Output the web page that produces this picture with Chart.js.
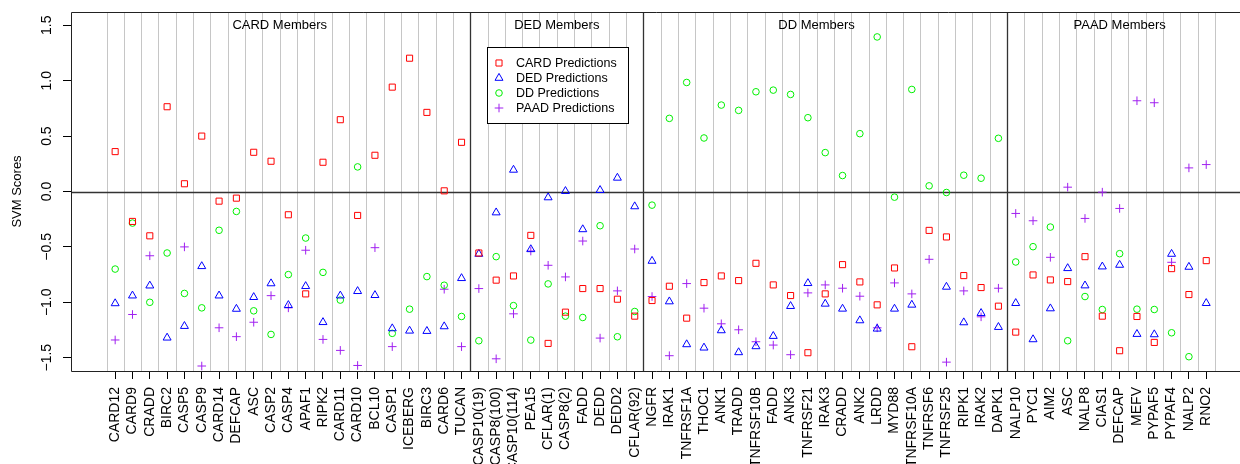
<!DOCTYPE html>
<html>
<head>
<meta charset="utf-8">
<script src="https://cdn.jsdelivr.net/npm/chart.js@4/dist/chart.umd.min.js"></script>
<style>
  html, body { margin: 0; padding: 0; background: #fff; }
  canvas { display: block; }
</style>
</head>
<body>
<canvas id="svmCanvas" width="1240" height="464"></canvas>
<script>
// Member names along the x axis (CARD, DED, DD, PAAD groups in order)
const members = [
  'CARD12', 'CARD9', 'CRADD', 'BIRC2', 'CASP5', 'CASP9', 'CARD14', 'DEFCAP', 'ASC', 'CASP2', 'CASP4',
  'APAF1', 'RIPK2', 'CARD11', 'CARD10', 'BCL10', 'CASP1', 'ICEBERG', 'BIRC3', 'CARD6', 'TUCAN',
  'CASP10(19)', 'CASP8(100)', 'CASP10(114)', 'PEA15', 'CFLAR(1)', 'CASP8(2)', 'FADD', 'DEDD', 'DEDD2', 'CFLAR(92)',
  'NGFR', 'IRAK1', 'TNFRSF1A', 'THOC1', 'ANK1', 'TRADD', 'TNFRSF10B', 'FADD', 'ANK3', 'TNFRSF21', 'IRAK3',
  'CRADD', 'ANK2', 'LRDD', 'MYD88', 'TNFRSF10A', 'TNFRSF6', 'TNFRSF25', 'RIPK1', 'IRAK2', 'DAPK1',
  'NALP10', 'PYC1', 'AIM2', 'ASC', 'NALP8', 'CIAS1', 'DEFCAP', 'MEFV', 'PYPAF5', 'PYPAF4', 'NALP2', 'RNO2'
];

const groupNames = ['CARD Members', 'DED Members', 'DD Members', 'PAAD Members'];
const groupSizes = [21, 10, 21, 12];
// where each group title sits, in x-axis units
const groupLabelAt = [9.5, 25.5, 40.5, 58];

// SVM scores per member (null = off the plotted range)
const cardScores = [
  0.36, -0.27, -0.40, 0.765, 0.07, 0.50, -0.087, -0.06, 0.354, 0.273, -0.21,
  -0.924, 0.264, 0.648, -0.216, 0.327, 0.942, 1.203, 0.714, 0.006, 0.444,
  -0.555, -0.80, -0.762, -0.396, -1.371, -1.089, -0.876, -0.876, -0.972, -1.125,
  -0.984, -0.855, -1.143, -0.822, -0.762, -0.804, -0.648, -0.843, -0.939, -1.455, -0.924,
  -0.66, -0.816, -1.023, -0.69, -1.401, -0.351, -0.41, -0.759, -0.867, -1.035,
  -1.269, -0.753, -0.798, -0.813, -0.588, -1.125, -1.437, -1.128, -1.362, -0.696, -0.93, -0.624
];
const dedScores = [
  -1.01, -0.94, -0.85, -1.32, -1.215, -0.675, -0.94, -1.06, -0.954, -0.83, -1.026,
  -0.855, -1.18, -0.94, -0.90, -0.936, -1.236, -1.257, -1.26, -1.218, -0.783,
  -0.564, -0.19, 0.195, -0.522, -0.054, 0.003, -0.342, 0.012, 0.123, -0.135,
  -0.627, -0.993, -1.38, -1.41, -1.254, -1.452, -1.398, -1.305, -1.035, -0.828, -1.014,
  -1.059, -1.164, -1.239, -1.059, -1.023, null, -0.861, -1.182, -1.098, -1.224,
  -1.008, -1.335, -1.056, -0.693, -0.849, -0.678, -0.663, -1.287, -1.29, -0.564, -0.681, -1.008
];
const ddScores = [
  -0.70, -0.285, -1.00, -0.555, -0.92, -1.05, -0.35, -0.18, -1.077, -1.29, -0.75,
  -0.42, -0.73, -0.98, 0.222, null, -1.28, -1.062, -0.768, -0.846, -1.128,
  -1.347, -0.588, -1.03, -1.341, -0.834, -1.125, -1.137, -0.309, -1.311, -1.083,
  -0.123, 0.66, 0.984, 0.483, 0.78, 0.732, 0.90, 0.915, 0.876, 0.666, 0.351,
  0.144, 0.522, 1.395, -0.051, 0.921, 0.051, -0.009, 0.147, 0.12, 0.48,
  -0.636, -0.498, -0.321, -1.347, -0.948, -1.065, -0.561, -1.062, -1.065, -1.275, -1.491, null
];
const paadScores = [
  -1.34, -1.11, -0.58, null, -0.50, -1.575, -1.23, -1.31, -1.18, -0.94, -1.05,
  -0.53, -1.335, -1.434, -1.57, -0.507, -1.40, null, null, -0.882, -1.40,
  -0.876, -1.51, -1.104, -0.537, -0.666, -0.771, -0.447, -1.323, -0.897, -0.519,
  -0.948, -1.482, -0.831, -1.053, -1.194, -1.248, -1.356, -1.386, -1.473, -0.915, -0.843,
  -0.873, -0.945, -1.23, -0.825, -0.924, -0.612, -1.54, -0.897, -1.131, -0.873,
  -0.198, -0.264, -0.594, 0.039, -0.243, -0.006, -0.153, 0.819, 0.801, -0.639, 0.213, 0.243
];

const yTicks = [-1.5, -1.0, -0.5, 0.0, 0.5, 1.0, 1.5];

const FONT = '"Liberation Sans", Arial, Helvetica, sans-serif';

const series = [
  { label: 'CARD Predictions', data: cardScores, color: '#ff0000', style: 'rect', r: 4.3 },
  { label: 'DED Predictions', data: dedScores, color: '#0000ff', style: 'triangle', r: 4.6 },
  { label: 'DD Predictions', data: ddScores, color: '#00f000', style: 'circle', r: 3.3 },
  { label: 'PAAD Predictions', data: paadScores, color: '#a020f0', style: 'cross', r: 4.3 }
];

// boundaries between the four groups, in x units
const groupEdges = [];
let acc = 0;
groupSizes.forEach((n, k) => {
  acc += n;
  if (k < groupSizes.length - 1) groupEdges.push(acc - 0.5);
});

function drawMarker(ctx, style, x, y, r, color) {
  ctx.save();
  ctx.strokeStyle = color;
  ctx.lineWidth = 1;
  ctx.beginPath();
  if (style === 'rect') {
    const s = r * Math.SQRT1_2;
    ctx.rect(x - s, y - s, 2 * s, 2 * s);
  } else if (style === 'triangle') {
    ctx.moveTo(x, y - r);
    ctx.lineTo(x + r * Math.sin(2 * Math.PI / 3), y - r * Math.cos(2 * Math.PI / 3));
    ctx.lineTo(x + r * Math.sin(4 * Math.PI / 3), y - r * Math.cos(4 * Math.PI / 3));
    ctx.closePath();
  } else if (style === 'circle') {
    ctx.arc(x, y, r, 0, Math.PI * 2);
  } else {
    ctx.moveTo(x - r, y); ctx.lineTo(x + r, y);
    ctx.moveTo(x, y - r); ctx.lineTo(x, y + r);
  }
  ctx.stroke();
  ctx.restore();
}

const decorations = {
  id: 'decorations',
  beforeDatasetsDraw(chart) {
    const { ctx, chartArea: a, scales: { x, y } } = chart;
    ctx.save();
    // light lines between members
    ctx.strokeStyle = '#c6c6c6';
    ctx.lineWidth = 1;
    for (let i = 0; i <= members.length; i++) {
      const v = i - 0.5;
      if (groupEdges.includes(v)) continue;
      const px = Math.round(x.getPixelForValue(v)) + 0.5;
      ctx.beginPath(); ctx.moveTo(px, a.top); ctx.lineTo(px, a.bottom); ctx.stroke();
    }
    // group dividers and zero line
    ctx.strokeStyle = '#333';
    ctx.lineWidth = 1.3;
    groupEdges.forEach(v => {
      const px = Math.round(x.getPixelForValue(v)) + 0.5;
      ctx.beginPath(); ctx.moveTo(px, a.top); ctx.lineTo(px, a.bottom); ctx.stroke();
    });
    const zy = Math.round(y.getPixelForValue(0)) + 0.5;
    ctx.beginPath(); ctx.moveTo(a.left, zy); ctx.lineTo(a.right, zy); ctx.stroke();

    // group titles
    ctx.fillStyle = '#000';
    ctx.font = '13px ' + FONT;
    ctx.textAlign = 'center';
    ctx.textBaseline = 'middle';
    groupNames.forEach((g, k) => ctx.fillText(g, x.getPixelForValue(groupLabelAt[k]), 25));
    ctx.restore();
  },
  afterDatasetsDraw(chart) {
    const { ctx, chartArea: a, scales: { y } } = chart;
    ctx.save();
    // plot frame (right side runs off the picture, as in the original)
    ctx.strokeStyle = '#222';
    ctx.lineWidth = 1;
    ctx.beginPath();
    ctx.moveTo(a.right + 10, a.top + 0.5);
    ctx.lineTo(a.left + 0.5, a.top + 0.5);
    ctx.lineTo(a.left + 0.5, a.bottom + 0.5);
    ctx.lineTo(a.right + 10, a.bottom + 0.5);
    ctx.stroke();

    // legend
    const lx = 487, ly = 47, lw = 141, lh = 76;
    ctx.fillStyle = '#fff';
    ctx.fillRect(lx, ly, lw, lh);
    ctx.strokeStyle = '#000';
    ctx.strokeRect(lx + 0.5, ly + 0.5, lw, lh);
    ctx.font = '12.5px ' + FONT;
    ctx.textAlign = 'left';
    ctx.textBaseline = 'middle';
    series.forEach((s, k) => {
      const ry = ly + 16 + k * 15;
      drawMarker(ctx, s.style, lx + 12, ry, s.r, s.color);
      ctx.fillStyle = '#000';
      ctx.fillText(s.label, lx + 29, ry + 0.5);
    });

    // y tick labels, rotated like the original
    ctx.font = '14px ' + FONT;
    ctx.textAlign = 'center';
    yTicks.forEach(v => {
      ctx.save();
      ctx.translate(47.5, y.getPixelForValue(v));
      ctx.rotate(-Math.PI / 2);
      ctx.fillText(v.toFixed(1).replace('-', '\u2212'), 0, 0);
      ctx.restore();
    });
    // y title
    ctx.font = '13px ' + FONT;
    ctx.translate(17, (a.top + a.bottom) / 2);
    ctx.rotate(-Math.PI / 2);
    ctx.fillText('SVM Scores', 0, 0);
    ctx.restore();
  }
};

const ctx = document.getElementById('svmCanvas').getContext('2d');
new Chart(ctx, {
  type: 'scatter',
  data: {
    datasets: series.map(s => ({
      label: s.label,
      data: s.data.map((v, i) => ({ x: i, y: v })),
      pointStyle: s.style,
      pointRadius: s.r,
      pointHoverRadius: s.r,
      borderColor: s.color,
      backgroundColor: 'rgba(0,0,0,0)',
      borderWidth: 1
    }))
  },
  options: {
    responsive: false,
    animation: false,
    devicePixelRatio: 1,
    layout: { autoPadding: false, padding: { top: 12, right: 0, left: 0, bottom: 0 } },
    plugins: { legend: { display: false }, tooltip: { enabled: false } },
    scales: {
      x: {
        type: 'linear',
        min: -2.55,
        max: 64.95,
        afterBuildTicks: scale => { scale.ticks = members.map((_, i) => ({ value: i })); },
        afterFit: scale => {
          scale.height = 93;
          scale.paddingLeft = 0;
          scale.paddingRight = 0;
        },
        ticks: {
          autoSkip: false,
          minRotation: 90,
          maxRotation: 90,
          padding: 8,
          color: '#000',
          font: { family: FONT, size: 14 },
          callback: v => members[v]
        },
        grid: { drawOnChartArea: false, drawTicks: true, tickLength: 8, color: '#000', tickColor: '#000' },
        border: { display: false }
      },
      y: {
        min: -1.62,
        max: 1.62,
        afterBuildTicks: scale => { scale.ticks = yTicks.map(v => ({ value: v })); },
        afterFit: scale => {
          scale.width = 71;
          scale.paddingTop = 0;
          scale.paddingBottom = 0;
        },
        ticks: { display: false },
        grid: { drawOnChartArea: false, drawTicks: true, tickLength: 8, color: '#000', tickColor: '#000' },
        border: { display: false }
      }
    }
  },
  plugins: [decorations]
});
</script>
</body>
</html>
